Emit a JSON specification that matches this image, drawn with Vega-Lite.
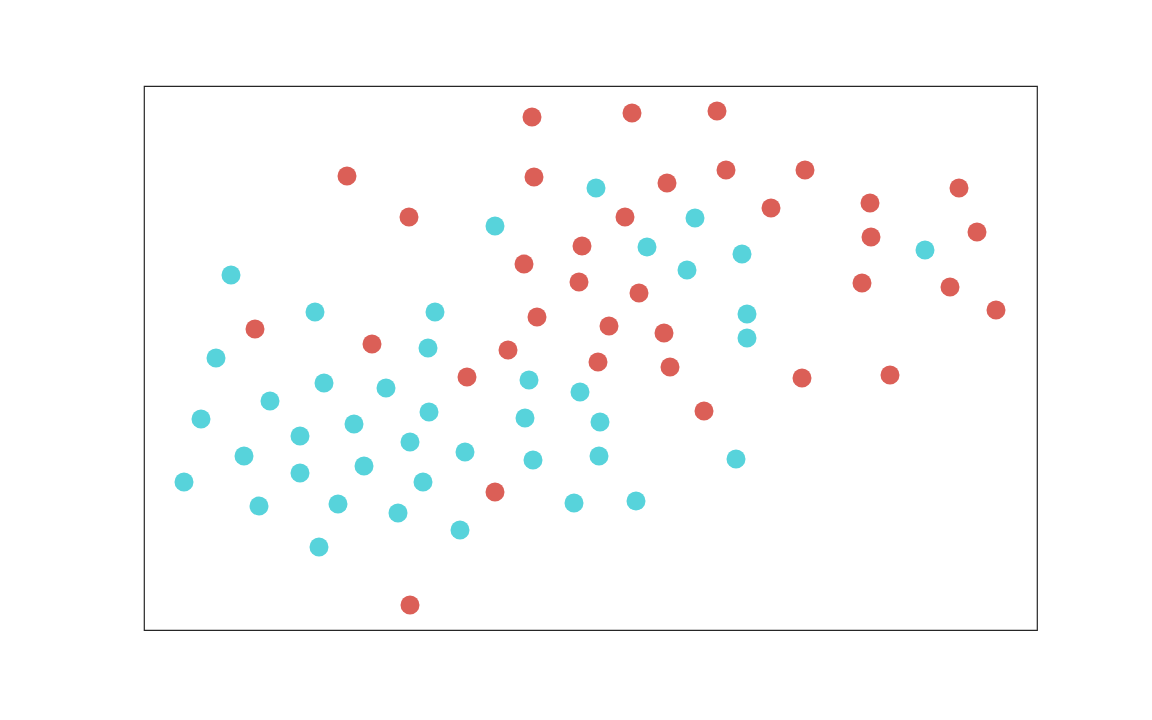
{
  "$schema": "https://vega.github.io/schema/vega-lite/v6.json",
  "width": 893,
  "height": 544,
  "autosize": "none",
  "padding": {"left": 144, "top": 86, "right": 115, "bottom": 90},
  "background": "white",
  "config": {"view": {"stroke": "#262626", "strokeWidth": 1.2}},
  "data": {"values": [
    {"x":387,"y":513,"g":"A"},{"x":487,"y":517,"g":"A"},{"x":572,"y":519,"g":"A"},{"x":202,"y":454,"g":"A"},{"x":389,"y":453,"g":"A"},{"x":522,"y":447,"g":"A"},{"x":581,"y":460,"g":"A"},{"x":660,"y":460,"g":"A"},{"x":814,"y":442,"g":"A"},{"x":264,"y":413,"g":"A"},{"x":480,"y":413,"g":"A"},{"x":626,"y":422,"g":"A"},{"x":725,"y":427,"g":"A"},{"x":437,"y":384,"g":"A"},{"x":726,"y":393,"g":"A"},{"x":832,"y":398,"g":"A"},{"x":379,"y":366,"g":"A"},{"x":434,"y":348,"g":"A"},{"x":494,"y":337,"g":"A"},{"x":717,"y":347,"g":"A"},{"x":805,"y":343,"g":"A"},{"x":110,"y":301,"g":"A"},{"x":392,"y":313,"g":"A"},{"x":464,"y":304,"g":"A"},{"x":519,"y":297,"g":"A"},{"x":851,"y":320,"g":"A"},{"x":227,"y":286,"g":"A"},{"x":363,"y":280,"g":"A"},{"x":453,"y":268,"g":"A"},{"x":525,"y":263,"g":"A"},{"x":322,"y":253,"g":"A"},{"x":657,"y":252,"g":"A"},{"x":745,"y":255,"g":"A"},{"x":559,"y":219,"g":"A"},{"x":350,"y":138,"g":"A"},{"x":265,"y":25,"g":"A"},
    {"x":451,"y":442,"g":"B"},{"x":350,"y":404,"g":"B"},{"x":550,"y":412,"g":"B"},{"x":86,"y":355,"g":"B"},{"x":502,"y":383,"g":"B"},{"x":597,"y":376,"g":"B"},{"x":542,"y":360,"g":"B"},{"x":780,"y":380,"g":"B"},{"x":170,"y":318,"g":"B"},{"x":290,"y":318,"g":"B"},{"x":602,"y":316,"g":"B"},{"x":602,"y":292,"g":"B"},{"x":71,"y":272,"g":"B"},{"x":283,"y":282,"g":"B"},{"x":179,"y":247,"g":"B"},{"x":241,"y":242,"g":"B"},{"x":384,"y":250,"g":"B"},{"x":125,"y":229,"g":"B"},{"x":435,"y":238,"g":"B"},{"x":56,"y":211,"g":"B"},{"x":284,"y":218,"g":"B"},{"x":209,"y":206,"g":"B"},{"x":380,"y":212,"g":"B"},{"x":455,"y":208,"g":"B"},{"x":155,"y":194,"g":"B"},{"x":265,"y":188,"g":"B"},{"x":99,"y":174,"g":"B"},{"x":320,"y":178,"g":"B"},{"x":219,"y":164,"g":"B"},{"x":388,"y":170,"g":"B"},{"x":454,"y":174,"g":"B"},{"x":591,"y":171,"g":"B"},{"x":155,"y":157,"g":"B"},{"x":39,"y":148,"g":"B"},{"x":278,"y":148,"g":"B"},{"x":114,"y":124,"g":"B"},{"x":193,"y":126,"g":"B"},{"x":253,"y":117,"g":"B"},{"x":429,"y":127,"g":"B"},{"x":491,"y":129,"g":"B"},{"x":315,"y":100,"g":"B"},{"x":174,"y":83,"g":"B"}
  ]},
  "mark": {"type": "circle", "size": 360, "opacity": 1},
  "encoding": {
    "x": {"field": "x", "type": "quantitative", "scale": {"domain": [-1, 892], "nice": false, "zero": false}, "axis": null},
    "y": {"field": "y", "type": "quantitative", "scale": {"domain": [0, 544], "nice": false, "zero": false}, "axis": null},
    "color": {"field": "g", "type": "nominal", "scale": {"domain": ["A", "B"], "range": ["#db5f57", "#57d3db"]}, "legend": null}
  }
}
